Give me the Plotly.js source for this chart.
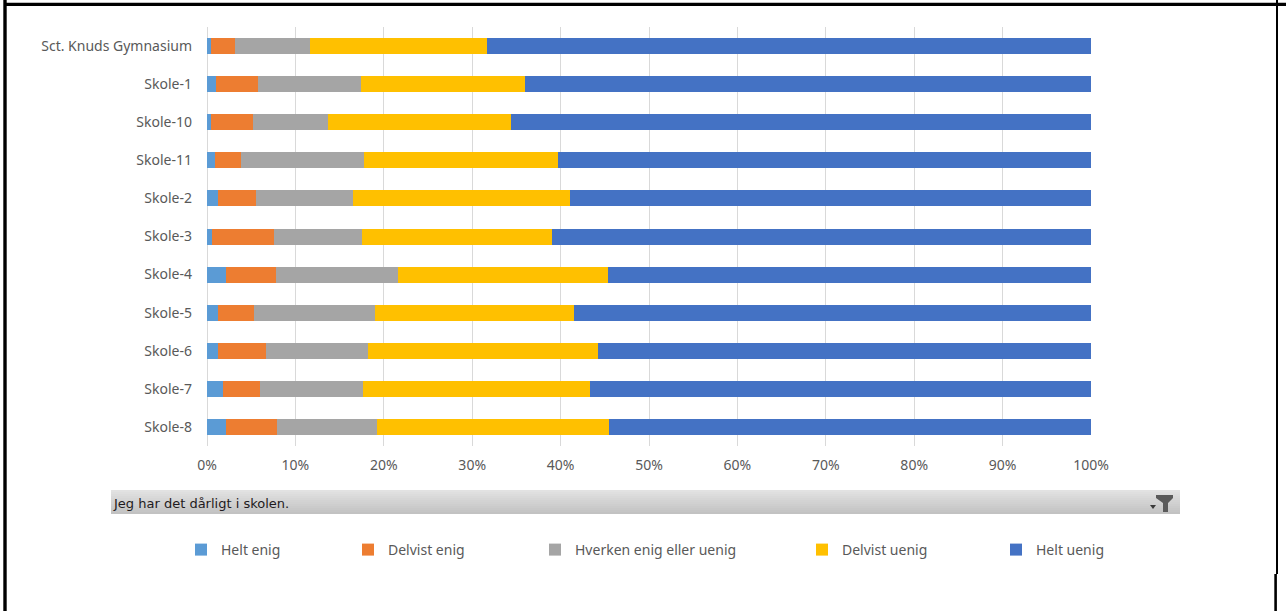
<!DOCTYPE html>
<html>
<head>
<meta charset="utf-8">
<script src="https://cdn.plot.ly/plotly-3.0.1.min.js"></script>
<style>
  html, body { margin: 0; padding: 0; background: #ffffff; }
  #chart { width: 1286px; height: 611px; }
</style>
</head>
<body>
<div id="chart"></div>
<script>
// ---- data ----
const schools = ["Sct. Knuds Gymnasium", "Skole-1", "Skole-10", "Skole-11", "Skole-2", "Skole-3",
                 "Skole-4", "Skole-5", "Skole-6", "Skole-7", "Skole-8"];
const seriesNames = ["Helt enig", "Delvist enig", "Hverken enig eller uenig", "Delvist uenig", "Helt uenig"];
const heltEnig     = [0.4, 1.0, 0.5, 0.9, 1.3, 0.6, 2.2, 1.3, 1.2, 1.8, 2.2];
const delvistEnig  = [2.8, 4.8, 4.7, 2.9, 4.2, 7.0, 5.6, 4.0, 5.5, 4.2, 5.7];
const hverken      = [8.5, 11.6, 8.5, 14.0, 11.0, 9.9, 13.8, 13.7, 11.5, 11.6, 11.3];
const delvistUenig = [20.0, 18.6, 20.7, 21.9, 24.6, 21.5, 23.8, 22.5, 26.0, 25.7, 26.3];
const heltUenig    = [68.3, 64.0, 65.6, 60.3, 58.9, 61.0, 54.6, 58.5, 55.8, 56.7, 54.5];
const tickVals   = [0, 10, 20, 30, 40, 50, 60, 70, 80, 90, 100];
const tickLabels = ["0%", "10%", "20%", "30%", "40%", "50%", "60%", "70%", "80%", "90%", "100%"];
const filterLabel = "Jeg har det dårligt i skolen.";

// ---- styling ----
const colors = ["#5B9BD5", "#ED7D31", "#A5A5A5", "#FFC000", "#4472C4"];
const seriesValues = [heltEnig, delvistEnig, hverken, delvistUenig, heltUenig];
const legendIds = ["legend", "legend2", "legend3", "legend4", "legend5"];
const legendCentersPx = [206, 373, 560, 827, 1021];

// plot area in pixels
const W = 1286, H = 611;
const PL = 207, PR = 1091, PT = 27, PB = 446;
const px = x => (x - PL) / (PR - PL);
const py = y => (PB - y) / (PB - PT);

const traces = seriesValues.map((vals, i) => ({
  type: "bar",
  orientation: "h",
  name: seriesNames[i],
  y: schools,
  x: vals,
  marker: { color: colors[i], line: { width: 0 } },
  legend: legendIds[i],
  hoverinfo: "skip"
}));

const textFont = { family: "Noto Sans, sans-serif", size: 14, color: "#595959" };

const layout = {
  width: W, height: H,
  margin: { l: PL, r: W - PR, t: PT, b: H - PB, pad: 0 },
  paper_bgcolor: "#ffffff",
  plot_bgcolor: "#ffffff",
  barmode: "stack",
  bargap: 0.58,
  showlegend: true,
  xaxis: {
    range: [0, 100],
    tickvals: tickVals,
    ticktext: tickLabels,
    showgrid: true,
    gridcolor: "#D9D9D9",
    gridwidth: 1,
    zeroline: true,
    zerolinecolor: "#D9D9D9",
    zerolinewidth: 1,
    showline: false,
    ticks: "",
    ticklabelstandoff: 9,
    tickfont: textFont,
    fixedrange: true
  },
  yaxis: {
    type: "category",
    categoryorder: "array",
    categoryarray: schools,
    autorange: "reversed",
    showgrid: false,
    zeroline: false,
    showline: false,
    ticks: "",
    ticklabelstandoff: 14,
    tickfont: textFont,
    fixedrange: true
  },
  shapes: [],
  annotations: []
};

// legends, one per series so each entry sits where the original puts it
legendIds.forEach((id, i) => {
  layout[id] = {
    orientation: "h",
    x: px(legendCentersPx[i] - 25),
    xanchor: "left",
    y: py(550),
    yanchor: "middle",
    bgcolor: "rgba(0,0,0,0)",
    borderwidth: 0,
    font: textFont,
    itemclick: false,
    itemdoubleclick: false
  };
});

// filter bar (gradient simulated with strips)
const barTop = 490, nStrips = 12;
for (let k = 0; k < nStrips; k++) {
  const t = k / (nStrips - 1);
  const c = Math.round(226 - t * 32);
  layout.shapes.push({
    type: "rect", xref: "paper", yref: "paper",
    x0: px(111), x1: px(1180),
    y0: py(barTop + k * 2), y1: py(barTop + k * 2 + 2),
    fillcolor: `rgb(${c},${c},${c})`, line: { width: 0 }, layer: "below"
  });
}
layout.annotations.push({
  xref: "paper", yref: "paper", x: px(111), y: py(503),
  xanchor: "left", yanchor: "middle", showarrow: false,
  text: filterLabel,
  font: { family: "DejaVu Sans, sans-serif", size: 13, color: "#1e1a20" }
});
// funnel icon
const funnelPts = [[1156, 495], [1173, 495], [1173, 498], [1168, 503], [1168, 512], [1163, 512], [1163, 503], [1156, 498]];
layout.shapes.push({
  type: "path", xref: "paper", yref: "paper",
  path: "M" + funnelPts.map(p => px(p[0]) + "," + py(p[1])).join("L") + "Z",
  fillcolor: "#5a5a5a", line: { width: 0 }
});
const triPts = [[1150, 505], [1156, 505], [1153, 509]];
layout.shapes.push({
  type: "path", xref: "paper", yref: "paper",
  path: "M" + triPts.map(p => px(p[0]) + "," + py(p[1])).join("L") + "Z",
  fillcolor: "#3a3a3a", line: { width: 0 }
});

// black frame
const frame = [
  [5, 0, 5, 611, 3.4],
  [5, 4.3, 1286, 4.3, 3.2],
  [1277, 0, 1277, 574, 2],
  [1275.6, 574, 1275.6, 611, 2.6]
];
frame.forEach(f => layout.shapes.push({
  type: "line", xref: "paper", yref: "paper",
  x0: px(f[0]), y0: py(f[1]), x1: px(f[2]), y1: py(f[3]),
  line: { color: "#000000", width: f[4] }
}));

Plotly.newPlot("chart", traces, layout, { staticPlot: true, displayModeBar: false });
</script>
</body>
</html>
